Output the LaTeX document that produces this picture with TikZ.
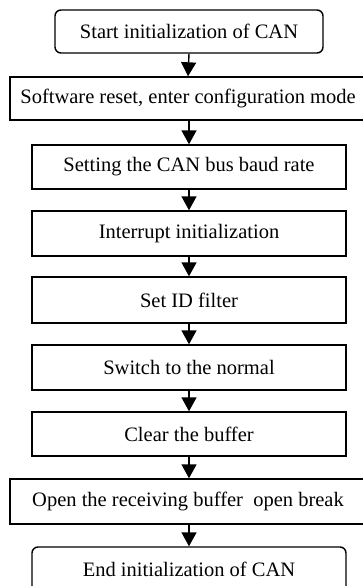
\documentclass[tikz,border=0pt]{standalone}
\usepackage{fontspec}
\setmainfont{Liberation Serif}
\usetikzlibrary{arrows.meta}
\begin{document}
\begin{tikzpicture}[x=1pt,y=-1pt,
  box/.style={draw,line width=1.4pt,inner sep=0pt,anchor=center,
    font=\fontsize{20.5}{24}\selectfont},
  rbox/.style={box,rounded corners=6pt},
  arr/.style={line width=1.4pt,-{Triangle[length=14pt,width=15pt]}}]
\useasboundingbox (0,0) rectangle (363,586);
\clip (0,0) rectangle (363,586);
\fill[white] (0,0) rectangle (363,586);
\node[rbox,minimum width=268pt,minimum height=43pt] (b1) at (189,31.5) {Start initialization of CAN};
\node[box,minimum width=356pt,minimum height=43pt] (b2) at (188,98.5) {Software reset, enter configuration mode};
\node[box,minimum width=314pt,minimum height=44pt] (b3) at (189,167) {Setting the CAN bus baud rate};
\node[box,minimum width=314pt,minimum height=45pt] (b4) at (189,233.5) {Interrupt initialization};
\node[box,minimum width=314pt,minimum height=46pt] (b5) at (189,300) {Set ID filter};
\node[box,minimum width=314pt,minimum height=45pt] (b6) at (189,367.5) {Switch to the normal};
\node[box,minimum width=314pt,minimum height=44pt] (b7) at (189,434) {Clear the buffer};
\node[box,minimum width=356pt,minimum height=45pt] (b8) at (188,501.5) {Open the receiving buffer\ \ open break};
\node[rbox,minimum width=314pt,minimum height=70pt,text depth=0pt] (b9) at (189,582) {};
\node[font=\fontsize{20.5}{24}\selectfont,anchor=center] (t9) at (b9.center|-0,569) {End initialization of CAN};
\draw[arr] (b1.south) -- (b2.north);
\draw[arr] (b2.south-|b1.south) -- (b3.north);
\draw[arr] (b3.south) -- (b4.north);
\draw[arr] (b4.south) -- (b5.north);
\draw[arr] (b5.south) -- (b6.north);
\draw[arr] (b6.south) -- (b7.north);
\draw[arr] (b7.south) -- (b8.north-|b7.north);
\draw[arr] (b8.south-|b7.south) -- (b9.north);
\end{tikzpicture}
\end{document}
